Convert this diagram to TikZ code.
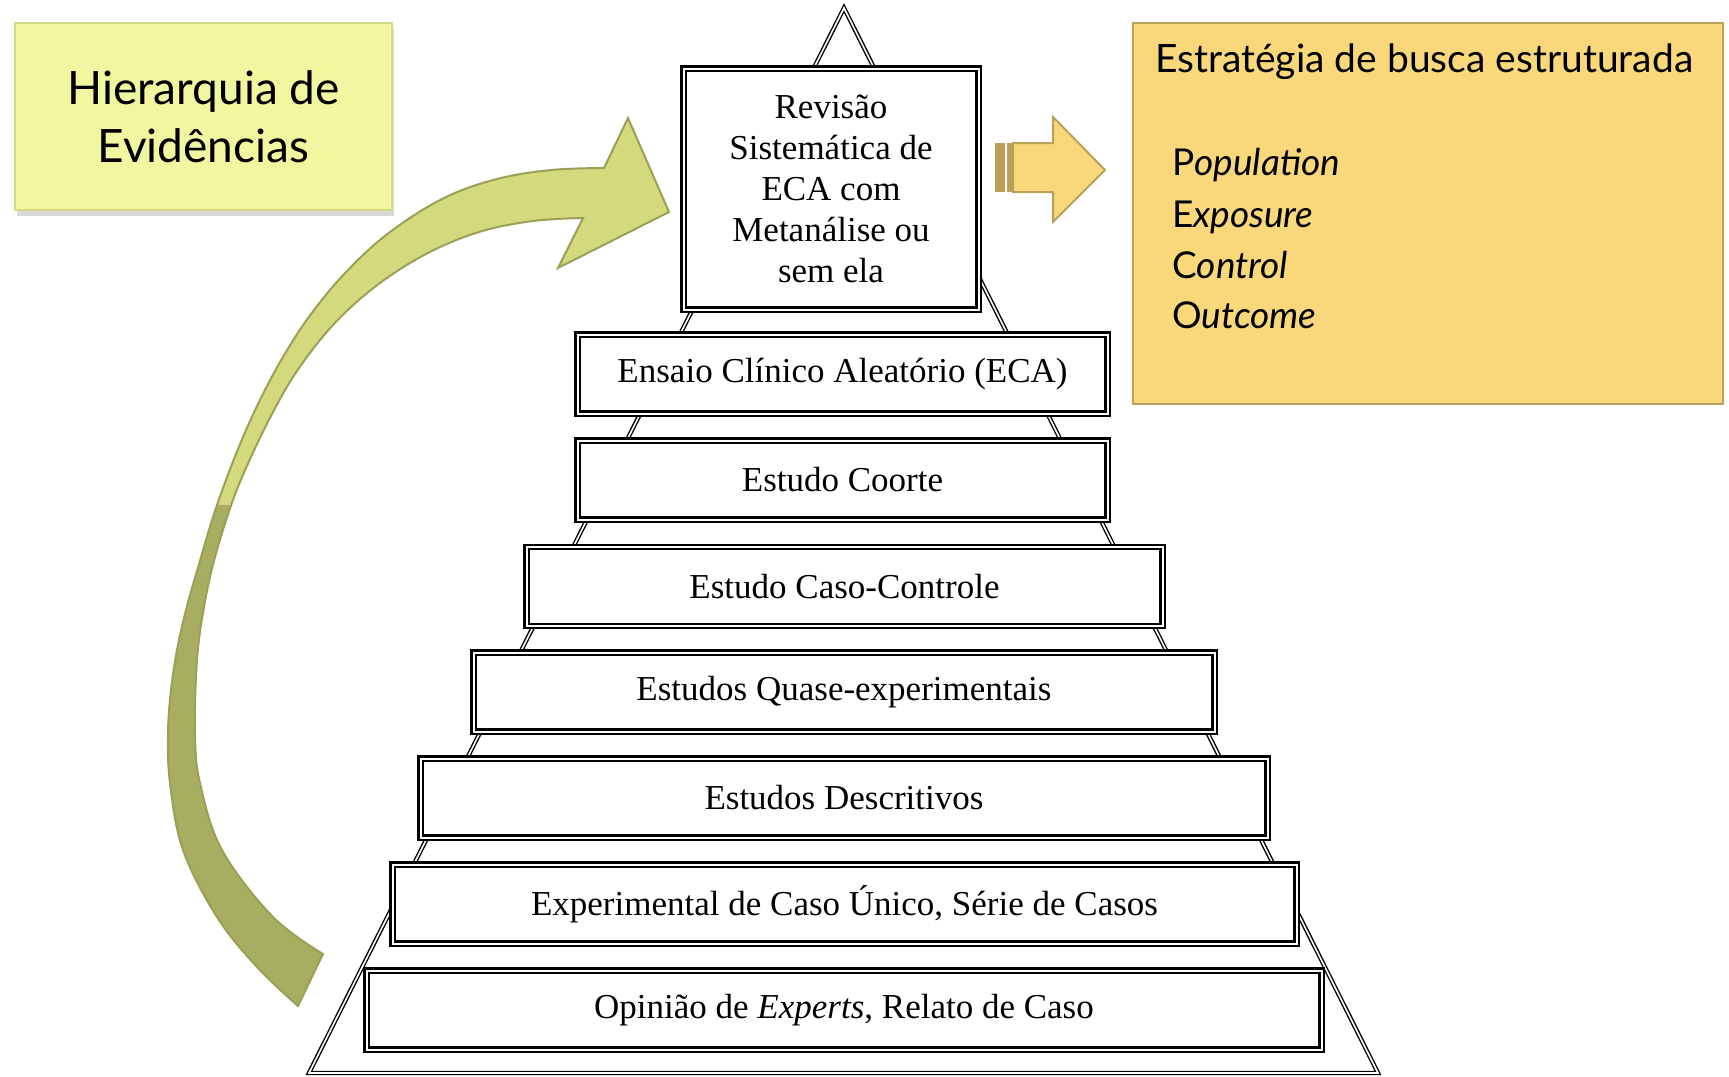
\documentclass[tikz,border=0pt]{standalone}
\usepackage{fontspec}
\setmainfont{Lato}
\newfontfamily\tnr{Liberation Serif}
\usetikzlibrary{shadows}
\definecolor{ouro}{HTML}{F9D87B}
\definecolor{ourobase}{HTML}{BBA05A}
\definecolor{limao}{HTML}{F2F6A0}
\definecolor{limaobase}{HTML}{D3D984}
\definecolor{oliva}{HTML}{A7AD61}
\definecolor{olivaclara}{HTML}{D3D97D}
\definecolor{olivabase}{HTML}{9AA157}
\tikzset{
  nivel/.style={draw, line width=2.2pt, double=white, double distance=2pt, fill=white,
    inner sep=0pt, minimum height=79pt, font=\tnr\fontsize{35}{41}\selectfont},
  piramide/.style={draw, line width=1.4pt, double=white, double distance=1.6pt},
  peco/.style={anchor=base west, inner sep=0pt, font=\fontsize{37}{44}\selectfont},
}

\begin{document}
\begin{tikzpicture}[x=1pt,y=-1pt]
      \useasboundingbox (0,0) rectangle (1729,1076);
      % pyramid outline
      \draw[piramide] (844,8) -- (309,1073) -- (1378,1073) -- cycle;
      % levels
      \node[nivel, minimum width=295pt, minimum height=241pt, align=center] (rs) at (831,189)
        {Revisão\\Sistemática de\\ECA com\\Metanálise ou\\sem ela};
      \node[nivel, minimum width=530pt] (eca)   at (842.5,374) {Ensaio Clínico Aleatório (ECA)};
      \node[nivel, minimum width=530pt] (coorte) at (842.5,480) {Estudo Coorte};
      \node[nivel, minimum width=636pt] (cc)    at (844.5,586.5) {Estudo Caso-Controle};
      \node[nivel, minimum width=741pt] (quase) at (844,692) {Estudos Quase-experimentais};
      \node[nivel, minimum width=847pt] (desc)  at (844,798) {Estudos Descritivos};
      \node[nivel, minimum width=904pt] (exper) at (844.5,904) {Experimental de Caso Único, Série de Casos};
      \node[nivel, minimum width=955pt] (opin)  at (844,1010) {Opinião de \emph{Experts}, Relato de Caso};
      % title box
      \node[draw=limaobase, line width=1.5pt, fill=limao, minimum width=377pt, minimum height=187pt,
        align=center, font=\fontsize{46}{58}\selectfont,
        drop shadow={shadow xshift=2pt, shadow yshift=-6pt, opacity=.3}] (hier) at (203.5,116.5)
        {Hierarquia de\\Evidências};
      % search strategy box
      \node[draw=ourobase, line width=2.5pt, fill=ouro, minimum width=590pt, minimum height=381pt] (busca) at (1428,213.5) {};
      \node[peco, font=\fontsize{39}{44}\selectfont] (titulo) at (1155,72) {Estratégia de busca estruturada};
      \node[peco] (pop) at (1172,175) {P\textit{opulation}};
      \node[peco] (expo) at (1172,227) {E\textit{xposure}};
      \node[peco] (contr) at (1172,278) {C\textit{ontrol}};
      \node[peco] (outc) at (1172,328) {O\textit{utcome}};
      % striped arrow -> box
      \fill[ourobase] (995,143) rectangle (1005,192);
      \fill[ourobase] (1007,143) rectangle (1013,192);
      \draw[ourobase, fill=ouro, line width=2pt, line join=miter]
        (1013,143) -- (1053,143) -- (1053,117) -- (1105,170) -- (1053,222) -- (1053,192) -- (1013,192) -- cycle;
      % curved arrow up the pyramid
      \coordinate (troca) at (0,505);
      \draw[olivabase, line width=2pt, fill=oliva, line join=miter,
        path picture={\fill[olivaclara] (path picture bounding box.north west) rectangle (path picture bounding box.east |- troca);}]
        plot[smooth, tension=0.6] coordinates {(298,1006) (257,967) (217,917) (183,850) (170,783) (168,733) (171,690)
          (177,650) (186,610) (197,571) (215,511) (236,454) (258,404) (283,357) (311,314) (347,271) (390,232) (444,198)
          (497,179) (551,170) (604,168)}
        -- (628,118) -- (669,212) -- (558,268)
        -- plot[smooth, tension=0.6] coordinates {(583,218) (533,221) (479,232) (426,254) (376,286) (333,325)
          (297,371) (272,414) (251,457) (233,500) (215,557) (204,607) (197,660) (195,733) (200,783) (222,850)
          (273,917) (323,954)}
        -- cycle;
\end{tikzpicture}
\end{document}
